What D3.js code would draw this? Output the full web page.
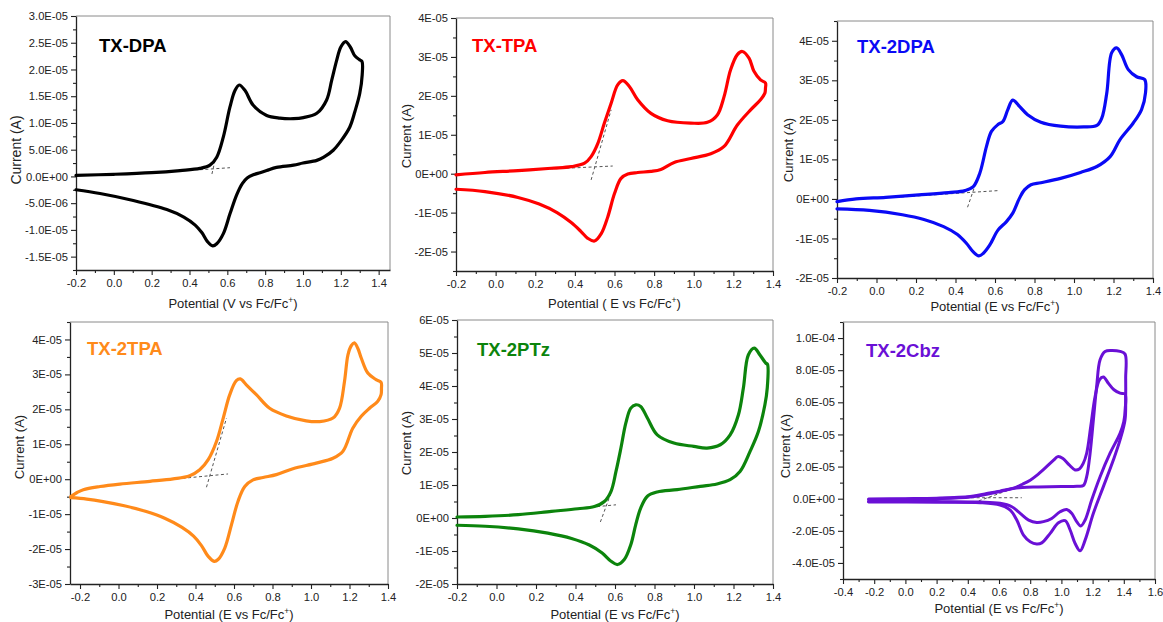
<!DOCTYPE html>
<html><head><meta charset="utf-8">
<script src="https://cdn.jsdelivr.net/npm/d3@7"></script>
<style>
html,body{margin:0;padding:0;background:#fff;}
svg{display:block;}
</style></head>
<body>
<svg id="chart" width="1163" height="622"></svg>
<script>
// ---------------- DATA (current in units of 1E-05 A, potential in V vs Fc/Fc+) ----------------
const panelTitles = ["TX-DPA", "TX-TPA", "TX-2DPA", "TX-2TPA", "TX-2PTz", "TX-2Cbz"];

const xTicksStd = [-0.2, 0.0, 0.2, 0.4, 0.6, 0.8, 1.0, 1.2, 1.4];
const xLabelsStd = ["-0.2", "0.0", "0.2", "0.4", "0.6", "0.8", "1.0", "1.2", "1.4"];
const xTicksCbz = [-0.4, -0.2, 0.0, 0.2, 0.4, 0.6, 0.8, 1.0, 1.2, 1.4, 1.6];
const xLabelsCbz = ["-0.4", "-0.2", "0.0", "0.2", "0.4", "0.6", "0.8", "1.0", "1.2", "1.4", "1.6"];

const yTicksDpa = [-1.5, -1.0, -0.5, 0, 0.5, 1.0, 1.5, 2.0, 2.5, 3.0];
const yLabelsDpa = ["-1.5E-05", "-1.0E-05", "-5.0E-06", "0.0E+00", "5.0E-06", "1.0E-05", "1.5E-05", "2.0E-05", "2.5E-05", "3.0E-05"];
const yTicksTpa = [-2, -1, 0, 1, 2, 3, 4];
const yLabelsTpa = ["-2E-05", "-1E-05", "0E+00", "1E-05", "2E-05", "3E-05", "4E-05"];
const yTicks2Dpa = [-2, -1, 0, 1, 2, 3, 4];
const yLabels2Dpa = ["-2E-05", "-1E-05", "0E+00", "1E-05", "2E-05", "3E-05", "4E-05"];
const yTicks2Tpa = [-3, -2, -1, 0, 1, 2, 3, 4];
const yLabels2Tpa = ["-3E-05", "-2E-05", "-1E-05", "0E+00", "1E-05", "2E-05", "3E-05", "4E-05"];
const yTicks2Ptz = [-2, -1, 0, 1, 2, 3, 4, 5, 6];
const yLabels2Ptz = ["-2E-05", "-1E-05", "0E+00", "1E-05", "2E-05", "3E-05", "4E-05", "5E-05", "6E-05"];
const yTicks2Cbz = [-4, -2, 0, 2, 4, 6, 8, 10];
const yLabels2Cbz = ["-4.0E-05", "-2.0E-05", "0.0E+00", "2.0E-05", "4.0E-05", "6.0E-05", "8.0E-05", "1.0E-04"];

// CV scans: [potential, current]
const dpaScan = [[-0.2,0.02],[0.0,0.04],[0.2,0.07],[0.35,0.11],[0.455,0.15],[0.508,0.21],[0.544,0.36],[0.579,0.74],[0.614,1.30],[0.641,1.61],[0.663,1.71],[0.693,1.61],[0.737,1.33],[0.808,1.14],[0.878,1.09],[0.95,1.08],[1.002,1.10],[1.073,1.18],[1.125,1.43],[1.152,1.80],[1.178,2.17],[1.2,2.42],[1.225,2.52],[1.25,2.42],[1.275,2.25],[1.3,2.18],[1.312,2.15],
  [1.313,1.9],[1.30,1.55],[1.275,1.22],[1.247,0.92],[1.2,0.66],[1.16,0.49],[1.11,0.36],[1.073,0.30],[1.0,0.25],[0.95,0.21],[0.86,0.17],[0.808,0.11],[0.773,0.07],[0.737,0.03],[0.705,-0.03],[0.68,-0.13],[0.65,-0.34],[0.614,-0.70],[0.579,-1.07],[0.544,-1.26],[0.523,-1.30],[0.495,-1.22],[0.465,-1.05],[0.43,-0.91],[0.37,-0.76],[0.28,-0.62],[0.103,-0.45],[-0.073,-0.32],[-0.2,-0.25]];
const tpaScan = [[-0.2,-0.03],[-0.054,0.03],[0.113,0.08],[0.281,0.14],[0.382,0.18],[0.449,0.27],[0.482,0.44],[0.516,0.78],[0.549,1.30],[0.583,1.81],[0.616,2.28],[0.642,2.39],[0.675,2.24],[0.717,1.90],[0.784,1.55],[0.868,1.36],[0.985,1.30],[1.069,1.32],[1.119,1.51],[1.153,1.98],[1.186,2.67],[1.22,3.06],[1.245,3.14],[1.279,2.97],[1.304,2.63],[1.337,2.41],[1.362,2.33],
  [1.362,2.2],[1.359,2.07],[1.337,1.90],[1.287,1.64],[1.22,1.25],[1.153,0.70],[1.086,0.51],[0.985,0.39],[0.901,0.29],[0.834,0.11],[0.784,0.06],[0.717,0.03],[0.667,-0.01],[0.633,-0.12],[0.600,-0.51],[0.566,-1.11],[0.533,-1.54],[0.499,-1.73],[0.465,-1.66],[0.43,-1.48],[0.38,-1.25],[0.31,-1.00],[0.22,-0.78],[0.113,-0.61],[-0.054,-0.46],[-0.2,-0.40]];
const dpa2Scan = [[-0.2,-0.07],[-0.103,0.0],[0.047,0.04],[0.214,0.10],[0.365,0.16],[0.448,0.21],[0.49,0.31],[0.523,0.65],[0.557,1.33],[0.582,1.71],[0.615,1.88],[0.64,1.96],[0.665,2.26],[0.69,2.50],[0.724,2.34],[0.765,2.13],[0.832,1.94],[0.932,1.84],[1.049,1.82],[1.116,1.86],[1.141,2.05],[1.166,2.68],[1.191,3.70],[1.216,3.82],[1.241,3.65],[1.275,3.27],[1.317,3.09],[1.358,3.02],
  [1.362,2.68],[1.342,2.26],[1.30,1.92],[1.233,1.50],[1.183,1.07],[1.116,0.82],[1.033,0.67],[0.932,0.52],[0.832,0.41],[0.782,0.36],[0.749,0.23],[0.724,0.02],[0.69,-0.36],[0.657,-0.58],[0.615,-0.79],[0.573,-1.17],[0.540,-1.38],[0.518,-1.44],[0.49,-1.34],[0.455,-1.12],[0.41,-0.90],[0.34,-0.70],[0.24,-0.52],[0.131,-0.40],[-0.036,-0.29],[-0.2,-0.25]];
const tpa2Scan = [[-0.248,-0.50],[-0.215,-0.38],[-0.183,-0.30],[-0.096,-0.21],[0.007,-0.14],[0.163,-0.06],[0.284,0.01],[0.370,0.10],[0.422,0.27],[0.466,0.56],[0.509,1.08],[0.544,1.75],[0.578,2.42],[0.612,2.82],[0.633,2.87],[0.664,2.70],[0.716,2.42],[0.785,2.03],[0.872,1.81],[0.975,1.67],[1.045,1.65],[1.114,1.75],[1.148,2.03],[1.174,2.80],[1.192,3.56],[1.209,3.82],[1.225,3.90],[1.243,3.75],[1.261,3.47],[1.295,3.04],[1.338,2.85],[1.364,2.77],
  [1.366,2.6],[1.364,2.42],[1.347,2.23],[1.304,2.03],[1.261,1.80],[1.217,1.46],[1.166,0.80],[1.114,0.60],[1.027,0.46],[0.906,0.30],[0.820,0.13],[0.751,0.05],[0.699,-0.02],[0.656,-0.21],[0.621,-0.63],[0.587,-1.30],[0.552,-1.97],[0.517,-2.30],[0.497,-2.35],[0.466,-2.21],[0.431,-1.90],[0.39,-1.63],[0.33,-1.38],[0.24,-1.12],[0.14,-0.92],[0.03,-0.76],[-0.08,-0.64],[-0.165,-0.57],[-0.248,-0.53]];
const ptzScan = [[-0.2,0.03],[-0.057,0.05],[0.110,0.10],[0.278,0.20],[0.412,0.28],[0.496,0.35],[0.546,0.50],[0.580,0.81],[0.605,1.41],[0.630,2.12],[0.655,2.88],[0.680,3.33],[0.705,3.43],[0.730,3.38],[0.764,3.03],[0.814,2.52],[0.898,2.27],[0.999,2.17],[1.066,2.12],[1.133,2.22],[1.183,2.52],[1.225,3.13],[1.250,3.94],[1.275,4.94],[1.305,5.15],[1.334,4.94],[1.364,4.69],[1.372,4.66],
  [1.371,3.94],[1.359,3.43],[1.326,2.62],[1.284,2.02],[1.233,1.41],[1.183,1.16],[1.116,1.03],[1.032,0.96],[0.915,0.86],[0.814,0.79],[0.764,0.66],[0.730,0.30],[0.705,-0.20],[0.680,-0.81],[0.647,-1.26],[0.613,-1.41],[0.580,-1.31],[0.535,-1.06],[0.47,-0.82],[0.38,-0.62],[0.26,-0.46],[0.110,-0.33],[-0.057,-0.25],[-0.2,-0.22]];
const cbzScan1 = [[-0.236,-0.06],[0.0,-0.03],[0.2,0.0],[0.415,0.10],[0.522,0.28],[0.607,0.45],[0.693,0.66],[0.75,0.9],[0.8,1.15],[0.842,1.45],[0.9,1.95],[0.95,2.4],[0.977,2.62],[1.01,2.5],[1.05,2.1],[1.088,1.79],[1.115,1.85],[1.14,2.2],[1.162,2.83],[1.188,4.49],[1.216,6.36],[1.244,7.40],[1.269,7.57],[1.301,7.19],[1.337,6.78],[1.376,6.57],[1.408,6.51],
  [1.409,5.6],[1.40,4.8],[1.376,4.07],[1.312,2.83],[1.248,1.37],[1.194,-0.08],[1.152,-1.33],[1.124,-1.70],[1.098,-1.43],[1.066,-0.91],[1.034,-0.67],[0.992,-0.81],[0.938,-1.23],[0.885,-1.43],[0.842,-1.48],[0.79,-1.33],[0.736,-0.91],[0.682,-0.50],[0.607,-0.29],[0.479,-0.21],[0.2,-0.18],[-0.236,-0.17]];
const cbzScan2 = [[-0.236,-0.02],[0.0,0.0],[0.2,0.03],[0.415,0.14],[0.522,0.32],[0.607,0.47],[0.68,0.62],[0.75,0.70],[0.85,0.73],[1.0,0.76],[1.1,0.78],[1.141,0.82],[1.162,1.37],[1.184,2.83],[1.205,4.91],[1.226,6.99],[1.248,8.65],[1.28,9.17],[1.322,9.23],[1.376,9.17],[1.408,9.0],
  [1.412,7.5],[1.412,6.36],[1.408,4.91],[1.376,3.66],[1.333,2.41],[1.269,0.75],[1.205,-0.91],[1.152,-2.58],[1.12,-3.24],[1.088,-2.79],[1.056,-1.95],[1.024,-1.37],[0.981,-1.50],[0.928,-2.16],[0.874,-2.75],[0.842,-2.82],[0.80,-2.68],[0.757,-2.27],[0.714,-1.33],[0.672,-0.71],[0.607,-0.40],[0.479,-0.25],[0.2,-0.22],[-0.236,-0.20]];

// onset tangent construction lines: [[E1,I1],[E2,I2]]
const dpaTangents = [[[0.455,0.125],[0.614,0.163]], [[0.535,0.30],[0.517,0.02]]];
const tpaTangents = [[[0.164,0.094],[0.591,0.197]], [[0.482,-0.16],[0.583,1.64]]];
const dpa2Tangents = [[[0.097,0.04],[0.615,0.21]], [[0.461,-0.21],[0.506,0.44]]];
const tpa2Tangents = [[[0.077,-0.11],[0.569,0.15]], [[0.457,-0.23],[0.561,1.75]]];
const ptzTangents = [[[0.177,0.15],[0.605,0.40]], [[0.526,-0.12],[0.580,0.76]]];
const cbzTangents = [[[0.351,0.06],[0.746,0.06]], [[0.437,-0.25],[0.693,0.64]]];

// ---------------- LAYOUT / STYLE ----------------
const panels = [
  {title: panelTitles[0], color: "#000000", L: 76, R: 390, T: 16, B: 270, xDom: [-0.2, 1.46], yDom: [-1.75, 3.0],
   xTicks: xTicksStd, xLabels: xLabelsStd, yTicks: yTicksDpa, yLabels: yLabelsDpa,
   scans: [dpaScan], tangents: dpaTangents, tx: 99, ty: 52, xTitle: "Potential (V vs Fc/Fc", xtY: 308, ytX: 16, ytY: 150, ytFs: 14, lw: 3.2},
  {title: panelTitles[1], color: "#ff0000", L: 456, R: 773, T: 18, B: 271, xDom: [-0.2, 1.4], yDom: [-2.5, 4],
   xTicks: xTicksStd, xLabels: xLabelsStd, yTicks: yTicksTpa, yLabels: yLabelsTpa,
   scans: [tpaScan], tangents: tpaTangents, tx: 472, ty: 52, xTitle: "Potential ( E vs Fc/Fc", xtY: 308, ytX: 406, ytY: 136, ytFs: 13, lw: 3.2},
  {title: panelTitles[2], color: "#0a0af5", L: 837, R: 1153, T: 21, B: 278, xDom: [-0.2, 1.4], yDom: [-2, 4.5],
   xTicks: xTicksStd, xLabels: xLabelsStd, yTicks: yTicks2Dpa, yLabels: yLabels2Dpa,
   scans: [dpa2Scan], tangents: dpa2Tangents, tx: 857, ty: 53, xTitle: "Potential (E vs Fc/Fc", xtY: 311, ytX: 788, ytY: 150, ytFs: 13, lw: 3.2},
  {title: panelTitles[3], color: "#ff8a1a", L: 70, R: 388, T: 322, B: 584, xDom: [-0.252, 1.4], yDom: [-3, 4.5],
   xTicks: xTicksStd, xLabels: xLabelsStd, yTicks: yTicks2Tpa, yLabels: yLabels2Tpa,
   scans: [tpa2Scan], tangents: tpa2Tangents, tx: 87, ty: 355, xTitle: "Potential (E vs Fc/Fc", xtY: 619, ytX: 19, ytY: 447, ytFs: 13, lw: 3.2},
  {title: panelTitles[4], color: "#0c840c", L: 457, R: 773, T: 320, B: 584, xDom: [-0.2, 1.4], yDom: [-2, 6],
   xTicks: xTicksStd, xLabels: xLabelsStd, yTicks: yTicks2Ptz, yLabels: yLabels2Ptz,
   scans: [ptzScan], tangents: ptzTangents, tx: 477, ty: 356, xTitle: "Potential (E vs Fc/Fc", xtY: 619, ytX: 406, ytY: 443, ytFs: 13, lw: 3.2},
  {title: panelTitles[5], color: "#6a10d6", L: 843, R: 1155, T: 322, B: 579, xDom: [-0.4, 1.6], yDom: [-5, 11],
   xTicks: xTicksCbz, xLabels: xLabelsCbz, yTicks: yTicks2Cbz, yLabels: yLabels2Cbz,
   scans: [cbzScan1, cbzScan2], tangents: cbzTangents, tx: 866, ty: 357, xTitle: "Potential (E vs Fc/Fc", xtY: 613, ytX: 785, ytY: 446, ytFs: 13, lw: 3.0}
];

const FONT = "'Liberation Sans', Arial, Helvetica, sans-serif";
const svg = d3.select("#chart");
svg.append("rect").attr("width", 1163).attr("height", 622).attr("fill", "#fff");

function minorTicks(major, dom) {
  const step = major[1] - major[0];
  const lo = Math.min(dom[0], dom[1]), hi = Math.max(dom[0], dom[1]);
  const out = [];
  for (let i = -1; i < major.length; i++) {
    const v = (i < 0 ? major[0] - step : major[i]) + step / 2;
    if (v >= lo - 1e-9 && v <= hi + 1e-9) out.push(v);
  }
  return out;
}

panels.forEach(p => {
  const g = svg.append("g");
  const x = d3.scaleLinear().domain(p.xDom).range([p.L, p.R]);
  const y = d3.scaleLinear().domain(p.yDom).range([p.B, p.T]);

  // top & right frame
  g.append("path").attr("d", `M${p.L},${p.T}H${p.R}V${p.B}`)
    .attr("fill", "none").attr("stroke", "#8a8a8a").attr("stroke-width", 1);

  // axes
  const styleAxis = sel => {
    sel.selectAll("path.domain").attr("stroke", "#222").attr("stroke-width", 1.3);
    sel.selectAll(".tick line").attr("stroke", "#222").attr("stroke-width", 1.1);
    sel.selectAll(".tick text").attr("font-family", FONT).attr("font-size", 11.2).attr("fill", "#222");
  };
  const yAx = g.append("g").attr("transform", `translate(${p.L},0)`)
    .call(d3.axisLeft(y).tickValues(p.yTicks).tickFormat((d, i) => p.yLabels[i]).tickSizeInner(5).tickSizeOuter(0).tickPadding(3));
  styleAxis(yAx);
  const yMin = g.append("g").attr("transform", `translate(${p.L},0)`)
    .call(d3.axisLeft(y).tickValues(minorTicks(p.yTicks, p.yDom)).tickFormat("").tickSize(3));
  yMin.select("path.domain").remove(); styleAxis(yMin);

  const xAx = g.append("g").attr("transform", `translate(0,${p.B})`)
    .call(d3.axisBottom(x).tickValues(p.xTicks).tickFormat((d, i) => p.xLabels[i]).tickSizeInner(5).tickSizeOuter(0).tickPadding(4));
  styleAxis(xAx);
  const xMin = g.append("g").attr("transform", `translate(0,${p.B})`)
    .call(d3.axisBottom(x).tickValues(minorTicks(p.xTicks, p.xDom)).tickFormat("").tickSize(3));
  xMin.select("path.domain").remove(); styleAxis(xMin);

  // axis titles
  const xt = g.append("text").attr("x", (p.L + p.R) / 2).attr("y", p.xtY)
    .attr("text-anchor", "middle").attr("font-family", FONT).attr("font-size", 13).attr("fill", "#222");
  xt.append("tspan").text(p.xTitle);
  xt.append("tspan").attr("dy", -5).attr("font-size", 8.5).text("+");
  xt.append("tspan").attr("dy", 5).text(")");

  g.append("text").attr("transform", `translate(${p.ytX},${p.ytY}) rotate(-90)`)
    .attr("text-anchor", "middle").attr("dominant-baseline", "central")
    .attr("font-family", FONT).attr("font-size", p.ytFs).attr("fill", "#222").text("Current (A)");

  // tangent construction lines
  p.tangents.forEach(t => {
    g.append("line").attr("x1", x(t[0][0])).attr("y1", y(t[0][1])).attr("x2", x(t[1][0])).attr("y2", y(t[1][1]))
      .attr("stroke", "#555").attr("stroke-width", 1).attr("stroke-dasharray", "3,2.5");
  });

  // CV curves
  const line = d3.line().x(d => x(d[0])).y(d => y(d[1])).curve(d3.curveCatmullRom.alpha(0.5));
  p.scans.forEach(s => {
    g.append("path").attr("d", line(s)).attr("fill", "none").attr("stroke", p.color)
      .attr("stroke-width", p.lw).attr("stroke-linejoin", "round").attr("stroke-linecap", "round");
  });

  // title
  g.append("text").attr("x", p.tx).attr("y", p.ty).attr("font-family", FONT).attr("font-weight", "bold")
    .attr("font-size", 18.5).attr("fill", p.color).text(p.title);
});
</script>
</body></html>
